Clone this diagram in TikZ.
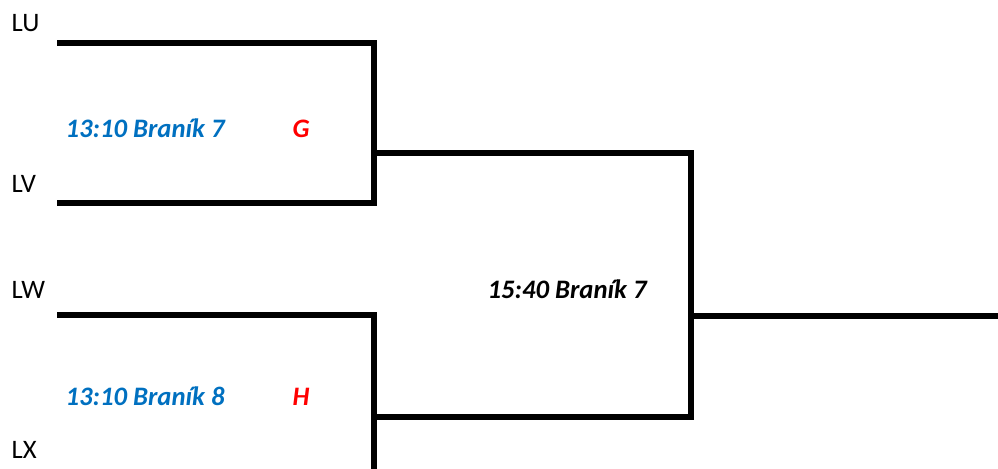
\documentclass[tikz,border=0pt]{standalone}
\usepackage{fontspec}
\setmainfont{Carlito}
\usetikzlibrary{positioning}
\definecolor{slotblue}{RGB}{0,112,192}
\definecolor{slotred}{RGB}{255,0,0}

\begin{document}
\begin{tikzpicture}[x=0.75pt,y=-0.75pt,line width=4pt,line join=miter]
  \tikzstyle{team}=[anchor=base west,inner sep=0pt,font=\fontsize{20}{24}\selectfont]
  \tikzstyle{game}=[anchor=base west,inner sep=0pt,font=\fontsize{20}{24}\selectfont\bfseries\itshape]
  \useasboundingbox (0,0) rectangle (998,468);

  % bracket corners
  \coordinate (LUs) at (57,43);   \coordinate (LUe) at (374,43);
  \coordinate (LVs) at (57,203);  \coordinate (LVe) at (374,203);
  \coordinate (LWs) at (57,315);  \coordinate (LWe) at (374,315);
  \coordinate (LXe) at (374,470);
  \coordinate (Gout) at (374,153); \coordinate (Gend) at (691,153);
  \coordinate (Hout) at (374,417); \coordinate (Hend) at (691,417);
  \coordinate (Fout) at (691,316); \coordinate (Fend) at (1000,316);

  \draw (LUs) -- (LUe) -- (LVe) -- (LVs);
  \draw (LWs) -- (LWe) -- (LXe);
  \draw (Gout) -- (Gend) -- (Hend) -- (Hout);
  \draw (Fout) -- (Fend);

  % teams
  \node[team] (LU) at (9,31.5) {LU};
  \node[team] (LV) at (9,192) {LV};
  \node[team] (LW) at (9,298) {LW};
  \node[team] (LX) at (9,458) {LX};

  % games
  \node[game, text=slotblue] (G1) at (63,137) {13:10 Braník 7};
  \node[game, text=slotred] (G) at (290,137) {G};
  \node[game, text=slotblue] (H1) at (63,405) {13:10 Braník 8};
  \node[game, text=slotred] (H) at (290,405) {H};
  \node[game] (F1) at (485,298) {15:40 Braník 7};
\end{tikzpicture}
\end{document}
